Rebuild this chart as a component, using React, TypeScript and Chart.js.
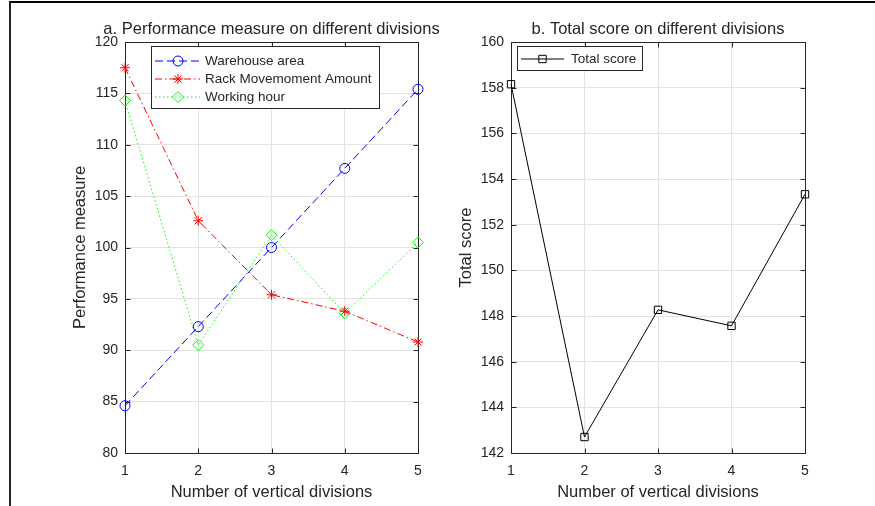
import React, { useEffect, useRef } from 'react';
import { Chart, registerables } from 'chart.js';
import { drawPoint } from 'chart.js/helpers';

Chart.register(...registerables);

// ---------- data ----------
const divisions = [1, 2, 3, 4, 5];
const warehouseArea = [84.6, 92.3, 100.0, 107.7, 115.4];
const rackMovement = [117.5, 102.6, 95.4, 93.8, 90.8];
const workingHour = [114.3, 90.5, 101.2, 93.6, 100.5];
const totalScore = [158.15, 142.7, 148.27, 147.57, 153.33];

const xTicks = [1, 2, 3, 4, 5];
const perfTicks = [80, 85, 90, 95, 100, 105, 110, 115, 120];
const scoreTicks = [142, 144, 146, 148, 150, 152, 154, 156, 158, 160];

const titleA = 'a. Performance measure on different divisions';
const titleB = 'b. Total score on different divisions';
const xLabel = 'Number of vertical divisions';
const yLabelA = 'Performance measure';
const yLabelB = 'Total score';

// ---------- styles ----------
const FONT = '"Liberation Sans", Arial, Helvetica, sans-serif';
const TEXT = '#262626';
const AXIS = '#262626';
const GRID = '#e2e2e2';

type LegendCfg = { x: number; y: number; w: number; h: number; rows: number[]; lineX0: number; lineX1: number; markerX: number; textX: number };
type PluginCfg = { title: string; yLabel: string; yLabelX: number; legend: LegendCfg };

function matlabPlugin(cfg: PluginCfg) {
  return {
    id: 'matlabAxes',
    beforeDatasetsDraw(chart: any) {
      const { ctx, chartArea: a, scales } = chart;
      const L = Math.round(a.left) + 0.5;
      const R = Math.round(a.right) + 0.5;
      const T = Math.round(a.top) + 0.5;
      const B = Math.round(a.bottom) + 0.5;
      const tl = 5;
      ctx.save();
      ctx.strokeStyle = AXIS;
      ctx.lineWidth = 1;
      ctx.setLineDash([]);
      ctx.strokeRect(L, T, R - L, B - T);
      ctx.beginPath();
      scales.x.ticks.forEach((t: any) => {
        const px = Math.round(scales.x.getPixelForValue(t.value)) + 0.5;
        ctx.moveTo(px, B); ctx.lineTo(px, B - tl);
        ctx.moveTo(px, T); ctx.lineTo(px, T + tl);
      });
      scales.y.ticks.forEach((t: any) => {
        const py = Math.round(scales.y.getPixelForValue(t.value)) + 0.5;
        ctx.moveTo(L, py); ctx.lineTo(L + tl, py);
        ctx.moveTo(R, py); ctx.lineTo(R - tl, py);
      });
      ctx.stroke();
      ctx.restore();
    },
    afterDraw(chart: any) {
      const { ctx, chartArea: a } = chart;
      ctx.save();
      ctx.fillStyle = TEXT;
      // title
      ctx.font = `16.5px ${FONT}`;
      ctx.textAlign = 'center';
      ctx.textBaseline = 'alphabetic';
      ctx.fillText(cfg.title, (a.left + a.right) / 2, 33.5);
      // x label
      ctx.font = `16.5px ${FONT}`;
      ctx.fillText(xLabel, (a.left + a.right) / 2, 497);
      // y label
      ctx.save();
      ctx.translate(cfg.yLabelX, (a.top + a.bottom) / 2);
      ctx.rotate(-Math.PI / 2);
      ctx.fillText(cfg.yLabel, 0, 0);
      ctx.restore();
      // legend
      const lg = cfg.legend;
      ctx.fillStyle = '#ffffff';
      ctx.fillRect(lg.x, lg.y, lg.w, lg.h);
      ctx.strokeStyle = AXIS;
      ctx.lineWidth = 1;
      ctx.strokeRect(lg.x, lg.y, lg.w, lg.h);
      chart.data.datasets.forEach((ds: any, i: number) => {
        const y = lg.rows[i];
        ctx.save();
        ctx.strokeStyle = ds.borderColor;
        ctx.lineWidth = ds.borderWidth;
        ctx.setLineDash(ds.borderDash || []);
        ctx.beginPath();
        ctx.moveTo(lg.lineX0, y);
        ctx.lineTo(lg.lineX1, y);
        ctx.stroke();
        ctx.setLineDash([]);
        ctx.strokeStyle = ds.pointBorderColor;
        ctx.fillStyle = 'rgba(0,0,0,0)';
        ctx.lineWidth = ds.pointBorderWidth;
        drawPoint(ctx, { pointStyle: ds.pointStyle, radius: ds.pointRadius, rotation: 0, borderWidth: ds.pointBorderWidth } as any, lg.markerX, y);
        ctx.restore();
        ctx.fillStyle = TEXT;
        ctx.font = `13.5px ${FONT}`;
        ctx.textAlign = 'left';
        ctx.textBaseline = 'middle';
        ctx.fillText(ds.label, lg.textX, y + 0.5);
      });
      ctx.restore();
    },
  };
}

function lineDs(label: string, values: number[], color: string, dash: number[], style: string, radius: number) {
  return {
    label,
    data: divisions.map((d, i) => ({ x: d, y: values[i] })),
    borderColor: color,
    borderWidth: 1,
    borderDash: dash,
    pointStyle: style,
    pointRadius: radius,
    pointBorderColor: color,
    pointBackgroundColor: 'rgba(0,0,0,0)',
    pointBorderWidth: 1,
    tension: 0,
    fill: false,
    clip: false,
  };
}

function makeConfig(datasets: any[], yTicks: number[], yWidth: number, padRight: number, cfg: PluginCfg) {
  return {
    type: 'line' as const,
    data: { datasets },
    options: {
      animation: false as const,
      responsive: false,
      devicePixelRatio: 1,
      layout: { padding: { left: 0, right: padRight, top: 42, bottom: 0 } },
      plugins: { legend: { display: false }, tooltip: { enabled: false }, title: { display: false } },
      scales: {
        x: {
          type: 'linear' as const,
          min: xTicks[0],
          max: xTicks[xTicks.length - 1],
          afterBuildTicks: (s: any) => { s.ticks = xTicks.map((v) => ({ value: v })); },
          afterFit: (s: any) => { s.height = 53; },
          grid: { color: GRID, drawTicks: false, lineWidth: 1 },
          border: { display: false },
          ticks: { color: TEXT, font: { family: FONT, size: 14 }, padding: 9.5, maxRotation: 0 },
        },
        y: {
          type: 'linear' as const,
          min: yTicks[0],
          max: yTicks[yTicks.length - 1],
          afterBuildTicks: (s: any) => { s.ticks = yTicks.map((v) => ({ value: v })); },
          afterFit: (s: any) => { s.width = yWidth; },
          grid: { color: GRID, drawTicks: false, lineWidth: 1 },
          border: { display: false },
          ticks: { color: TEXT, font: { family: FONT, size: 14 }, padding: 7 },
        },
      },
    },
    plugins: [matlabPlugin(cfg)],
  };
}

export default function App() {
  const ref1 = useRef<HTMLCanvasElement>(null);
  const ref2 = useRef<HTMLCanvasElement>(null);

  useEffect(() => {
    const dsA = [
      lineDs('Warehouse area', warehouseArea, '#0000ff', [8, 4], 'circle', 5),
      lineDs('Rack Movemoment Amount', rackMovement, '#ff0000', [7, 3, 1.5, 3], 'star', 5),
      lineDs('Working hour', workingHour, '#00ff00', [1.5, 2.5], 'rectRot', 5.5),
    ];
    const dsB = [lineDs('Total score', totalScore, '#000000', [], 'rect', 5.2)];

    const c1 = new Chart(ref1.current as HTMLCanvasElement, makeConfig(dsA, perfTicks, 125, 27, {
      title: titleA,
      yLabel: yLabelA,
      yLabelX: 85,
      legend: { x: 151.5, y: 46.5, w: 228, h: 62, rows: [61, 79, 97], lineX0: 155, lineX1: 200, markerX: 178, textX: 205 },
    }) as any);
    const c2 = new Chart(ref2.current as HTMLCanvasElement, makeConfig(dsB, scoreTicks, 66, 70, {
      title: titleB,
      yLabel: yLabelB,
      yLabelX: 26,
      legend: { x: 72.5, y: 46.5, w: 125, h: 24, rows: [59], lineX0: 76, lineX1: 119, markerX: 97.5, textX: 126 },
    }) as any);
    return () => { c1.destroy(); c2.destroy(); };
  }, []);

  return (
    <div style={{ position: 'fixed', left: 0, top: 0, width: 875, height: 506, overflow: 'hidden', background: '#ffffff' }}>
      <canvas ref={ref1} width={445} height={506} style={{ position: 'absolute', left: 0, top: 0, width: 445, height: 506 }} />
      <canvas ref={ref2} width={430} height={506} style={{ position: 'absolute', left: 445, top: 0, width: 430, height: 506 }} />
      <div style={{ position: 'absolute', left: 9, top: 1, width: 900, height: 600, borderTop: '2px solid #000', borderLeft: '2px solid #222', pointerEvents: 'none' }} />
    </div>
  );
}
